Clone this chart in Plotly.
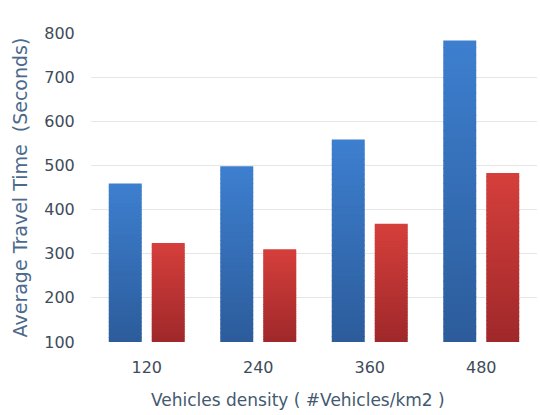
import plotly.graph_objects as go

# Data
densities = ["120", "240", "360", "480"]
series_a = [459, 498, 559, 783]   # blue series
series_b = [324, 310, 368, 483]   # red series
y_ticks = [100, 200, 300, 400, 500, 600, 700, 800]

AXIS_MIN = 100
N_BANDS = 40
BAND_OVERLAP = 2.0  # each band reaches slightly into the next to hide seams


def lerp_color(c0, c1, t):
    return "rgb({},{},{})".format(*[round(a + (b - a) * t) for a, b in zip(c0, c1)])


def gradient_bars(values, dark, light, group):
    """Stacked bands from dark (bottom) to light (top) forming one gradient bar."""
    traces = []
    for k in range(N_BANDS):
        f0 = k / N_BANDS
        f1 = (k + 1) / N_BANDS
        bases = [AXIS_MIN + (v - AXIS_MIN) * f0 for v in values]
        extra = BAND_OVERLAP if k < N_BANDS - 1 else 0.0
        heights = [(v - AXIS_MIN) * (f1 - f0) + extra for v in values]
        traces.append(go.Bar(
            x=densities, y=heights, base=bases,
            offsetgroup=group,
            marker=dict(color=lerp_color(dark, light, (f0 + f1) / 2), line=dict(width=0)),
            showlegend=False, hoverinfo="skip",
        ))
    return traces


fig = go.Figure()
for tr in gradient_bars(series_a, (44, 92, 155), (61, 127, 207), "a"):
    fig.add_trace(tr)
for tr in gradient_bars(series_b, (160, 40, 42), (213, 63, 59), "b"):
    fig.add_trace(tr)

font_family = "DejaVu Sans"
tick_color = "#3e4b5b"
title_color = "#4c6a8c"

fig.update_layout(
    width=540, height=415,
    margin=dict(l=91, r=3, t=33, b=73),
    paper_bgcolor="white", plot_bgcolor="white",
    barmode="group", bargap=0.229, bargroupgap=0.233,
    font=dict(family=font_family, color=tick_color),
    xaxis=dict(
        type="category", showgrid=False, showline=False, zeroline=False,
        tickfont=dict(size=16, color=tick_color),
        ticks="outside", ticklen=11, tickcolor="rgba(0,0,0,0)",
    ),
    yaxis=dict(
        range=[AXIS_MIN, 800], tickvals=y_ticks,
        showgrid=True, gridcolor="#e6e6e6", gridwidth=1,
        showline=False, zeroline=False,
        tickfont=dict(size=16, color=tick_color),
        ticks="outside", ticklen=12, tickcolor="rgba(0,0,0,0)",
        title=dict(text="Average Travel Time  (Seconds)",
                   font=dict(size=19, color=title_color), standoff=11),
    ),
    annotations=[dict(
        text="Vehicles density ( #Vehicles/km2 )",
        xref="paper", yref="paper", x=0.464, y=-0.188,
        xanchor="center", yanchor="middle", showarrow=False,
        font=dict(size=17, color="#44596f"),
    )],
)

fig.write_html("out.html")
